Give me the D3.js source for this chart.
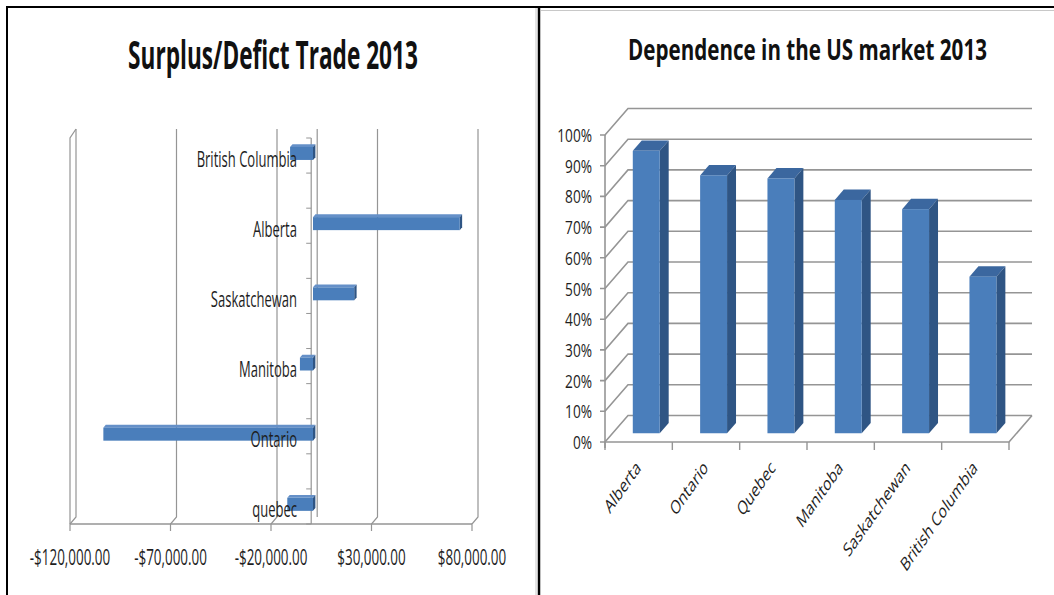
<!DOCTYPE html>
<html>
<head>
<meta charset="utf-8">
<script src="https://cdn.jsdelivr.net/npm/d3@7"></script>
<style>
  body { margin: 0; background: #fff; }
  svg { display: block; }
</style>
</head>
<body>
<svg id="chart" width="1054" height="595"></svg>
<script>
// Trade balance by province, 2013 (dollars)
const tradeProvinces = ["British Columbia", "Alberta", "Saskatchewan", "Manitoba", "Ontario", "quebec"];
const tradeBalance = [-11400, 73000, 20500, -6500, -104300, -12800];
const tradeTicks = [-120000, -70000, -20000, 30000, 80000];

// Share of exports sold in the US market, 2013
const usProvinces = ["Alberta", "Ontario", "Quebec", "Manitoba", "Saskatchewan", "British Columbia"];
const usShare = [0.92, 0.84, 0.83, 0.76, 0.73, 0.51];
const shareTicks = [0, 0.1, 0.2, 0.3, 0.4, 0.5, 0.6, 0.7, 0.8, 0.9, 1.0];

const FONT = "'Open Sans', 'Liberation Sans', sans-serif";
const BAR_FRONT = "#4a7ebb", BAR_TOP = "#3b679f", BAR_SIDE = "#2f5584";
const GRID = "#959595";

const svg = d3.select("#chart");

// horizontally condensed text helper; o.fit squeezes the text to a given width
function label(g, x, y, str, o) {
  const t = g.append("text")
    .attr("font-family", FONT)
    .attr("font-size", o.size)
    .attr("font-weight", o.weight || "normal")
    .attr("fill", o.fill || "#1a1a1a")
    .attr("text-anchor", o.anchor || "start")
    .text(str);
  let k = o.k || 1;
  if (o.fit) k = o.fit / t.node().getComputedTextLength();
  t.attr("transform", `translate(${x},${y}) scale(${k},1)` + (o.rotate ? ` rotate(${o.rotate})` : ""));
  return t;
}

// ---------- panel frames ----------
const frame = svg.append("g");
frame.append("line").attr("x1", 536).attr("x2", 536).attr("y1", 8).attr("y2", 595).attr("stroke", "#c8c8c8").attr("stroke-width", 1);
frame.append("line").attr("x1", 541).attr("x2", 1054).attr("y1", 10.5).attr("y2", 10.5).attr("stroke", "#c8c8c8").attr("stroke-width", 1);
frame.append("line").attr("x1", 6).attr("x2", 1054).attr("y1", 7).attr("y2", 7).attr("stroke", "#000").attr("stroke-width", 2);
frame.append("line").attr("x1", 7).attr("x2", 7).attr("y1", 6).attr("y2", 595).attr("stroke", "#000").attr("stroke-width", 2);
frame.append("line").attr("x1", 539).attr("x2", 539).attr("y1", 6).attr("y2", 595).attr("stroke", "#000").attr("stroke-width", 2.5);

// ---------- left chart: Surplus/Defict Trade 2013 ----------
const L = svg.append("g");
label(L, 273, 69, "Surplus/Defict Trade 2013", { size: 39, weight: "bold", anchor: "middle", fit: 290, fill: "#111" });

const LDX = 6, LDY = -7;           // depth offset of the back wall
const xL = d3.scaleLinear().domain([-120000, 80000]).range([70, 472]);
// each province row is followed by an empty row on the category axis
const slots = d3.scaleBand().domain(d3.range(tradeProvinces.length * 2 - 1)).range([138, 524]);
const rowY = i => slots(i * 2) + slots.bandwidth() / 2;
const [yTop, yBot] = slots.range();

// back-wall gridlines with their floor slants and tick marks
tradeTicks.forEach(t => {
  const x = xL(t);
  L.append("path")
    .attr("d", `M${x + LDX},${yTop + LDY - 2} L${x + LDX},${yBot + LDY} L${x},${yBot} L${x},${yBot + 7}`)
    .attr("fill", "none").attr("stroke", GRID).attr("stroke-width", 1.2);
});
// left wall front edge
L.append("path")
  .attr("d", `M${xL(tradeTicks[0]) + LDX},${yTop + LDY - 2} L${xL(tradeTicks[0])},${yTop} L${xL(tradeTicks[0])},${yBot}`)
  .attr("fill", "none").attr("stroke", GRID).attr("stroke-width", 1.2);
// floor front edge
L.append("line").attr("x1", xL(tradeTicks[0])).attr("x2", xL(tradeTicks[tradeTicks.length - 1]))
  .attr("y1", yBot).attr("y2", yBot).attr("stroke", GRID).attr("stroke-width", 1.5);
// category axis at zero, front and back
L.append("line").attr("x1", xL(0) + LDX).attr("x2", xL(0) + LDX).attr("y1", yTop + LDY - 2).attr("y2", yBot + LDY)
  .attr("stroke", GRID).attr("stroke-width", 1.2);
L.append("line").attr("x1", xL(0)).attr("x2", xL(0)).attr("y1", yTop).attr("y2", yBot)
  .attr("stroke", GRID).attr("stroke-width", 1.2);
d3.range(slots.domain().length + 1).forEach(k => {
  const y = yTop + k * slots.step();
  L.append("line").attr("x1", xL(0) - 5).attr("x2", xL(0)).attr("y1", y).attr("y2", y)
    .attr("stroke", GRID).attr("stroke-width", 1);
});

// 3D horizontal bars
const lf0 = 0.3, lf1 = 0.7, barH = 13;
tradeBalance.forEach((v, i) => {
  const x0 = Math.min(xL(0), xL(v)) + lf0 * LDX;
  const x1 = Math.max(xL(0), xL(v)) + lf0 * LDX;
  const yc = rowY(i) + lf0 * LDY;
  const y0 = yc - barH / 2, y1 = yc + barH / 2;
  const ddx = (lf1 - lf0) * LDX, ddy = (lf1 - lf0) * LDY;
  L.append("path").attr("d", `M${x0},${y0} L${x0 + ddx},${y0 + ddy} L${x1 + ddx},${y0 + ddy} L${x1},${y0} Z`)
    .attr("fill", "#6590c8");
  L.append("path").attr("d", `M${x1},${y0} L${x1 + ddx},${y0 + ddy} L${x1 + ddx},${y1 + ddy} L${x1},${y1} Z`)
    .attr("fill", BAR_SIDE);
  L.append("rect").attr("x", x0).attr("y", y0).attr("width", x1 - x0).attr("height", barH)
    .attr("fill", BAR_FRONT);
});

// category labels
tradeProvinces.forEach((p, i) => {
  label(L, 297, rowY(i) + 11, p, { size: 21, k: 0.62, anchor: "end", fill: "#1e1e1e" });
});

// value axis labels
const money = d3.formatLocale({ decimal: ".", thousands: ",", grouping: [3], currency: ["$", ""], minus: "-" }).format("$,.2f");
tradeTicks.forEach(t => {
  label(L, xL(t), 565, money(t), { size: 21, k: 0.64, anchor: "middle", fill: "#1e1e1e" });
});

// ---------- right chart: Dependence in the US market 2013 ----------
const R = svg.append("g");
label(R, 807.5, 60, "Dependence in the US market 2013", { size: 28, weight: "bold", anchor: "middle", fit: 359, fill: "#111" });

const RDX = 23, RDY = -26.5;
const yR = d3.scaleLinear().domain([0, 1]).range([442, 135]);
const xR = d3.scaleBand().domain(usProvinces).range([605, 1009]).paddingInner(0.6).paddingOuter(0.3);
const [xs, xe] = xR.range();

// side wall and back wall gridlines
shareTicks.forEach(t => {
  const y = yR(t);
  R.append("path")
    .attr("d", `M${xs - 5},${y} L${xs},${y} L${xs + RDX},${y + RDY} L${xe + RDX},${y + RDY}`)
    .attr("fill", "none").attr("stroke", GRID).attr("stroke-width", 1.6);
});
// value axis line
R.append("line").attr("x1", xs).attr("x2", xs).attr("y1", yR(1)).attr("y2", yR(0) + 6)
  .attr("stroke", GRID).attr("stroke-width", 1.6);
// floor front edge and right slant
R.append("path").attr("d", `M${xs},${yR(0)} L${xe},${yR(0)} L${xe + RDX},${yR(0) + RDY}`)
  .attr("fill", "none").attr("stroke", GRID).attr("stroke-width", 1.6);
// category tick marks
d3.range(usProvinces.length + 1).forEach(k => {
  const x = xs + k * xR.step();
  R.append("line").attr("x1", x).attr("x2", x).attr("y1", yR(0)).attr("y2", yR(0) + 8)
    .attr("stroke", GRID).attr("stroke-width", 1.4);
});

// 3D columns
const rf0 = 0.33, rf1 = 0.72;
usShare.forEach((v, i) => {
  const bw = xR.bandwidth();
  const x0 = xR(usProvinces[i]) + rf0 * RDX;
  const yb = yR(0) + rf0 * RDY, yt = yR(v) + rf0 * RDY;
  const ddx = (rf1 - rf0) * RDX, ddy = (rf1 - rf0) * RDY;
  R.append("path").attr("d", `M${x0},${yt} L${x0 + ddx},${yt + ddy} L${x0 + bw + ddx},${yt + ddy} L${x0 + bw},${yt} Z`)
    .attr("fill", BAR_TOP);
  R.append("path").attr("d", `M${x0 + bw},${yt} L${x0 + bw + ddx},${yt + ddy} L${x0 + bw + ddx},${yb + ddy} L${x0 + bw},${yb} Z`)
    .attr("fill", BAR_SIDE);
  R.append("rect").attr("x", x0).attr("y", yt).attr("width", bw).attr("height", yb - yt)
    .attr("fill", BAR_FRONT);
});

// value labels
const pct = d3.format(".0%");
shareTicks.forEach(t => {
  label(R, 592, yR(t) + 7, pct(t), { size: 18, k: 0.76, anchor: "end", fill: "#1e1e1e" });
});

// rotated category labels
usProvinces.forEach(p => {
  const cx = xR(p) + xR.bandwidth() / 2;
  label(R, cx + 3, 469, p, { size: 19, k: 0.7, rotate: -45, anchor: "end", fill: "#1e1e1e" });
});
</script>
</body>
</html>
